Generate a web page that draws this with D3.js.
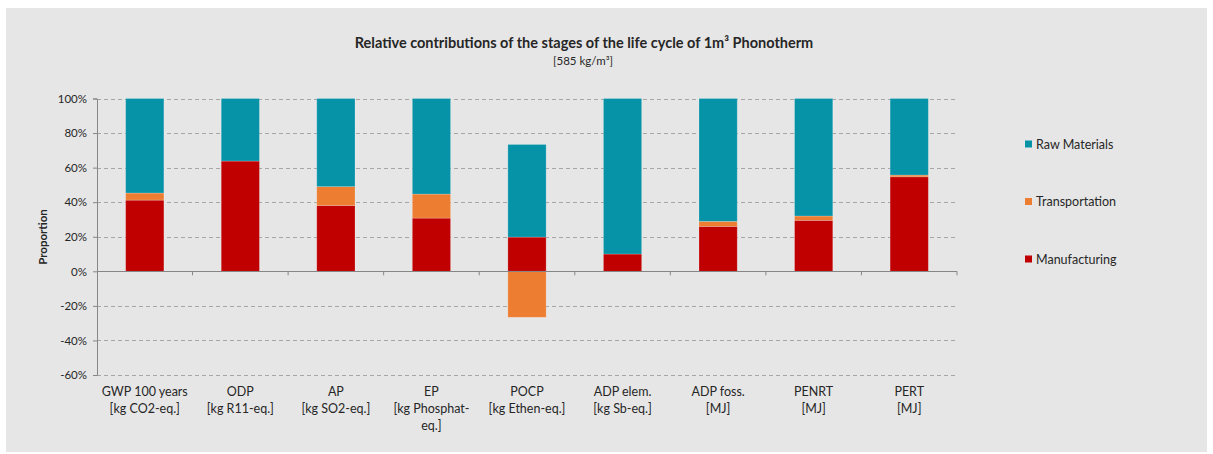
<!DOCTYPE html>
<html>
<head>
<meta charset="utf-8">
<script src="https://cdn.jsdelivr.net/npm/d3@7"></script>
<style>
  body { margin: 0; background: #fff; }
  text { font-family: Lato, "Open Sans", sans-serif; fill: #262626; }
</style>
</head>
<body>
<div id="chart"></div>
<script>
// categories and stage shares (fractions)
const categories = [
  ["GWP 100 years", "[kg CO2-eq.]"],
  ["ODP", "[kg R11-eq.]"],
  ["AP", "[kg SO2-eq.]"],
  ["EP", "[kg Phosphat-", "eq.]"],
  ["POCP", "[kg Ethen-eq.]"],
  ["ADP elem.", "[kg Sb-eq.]"],
  ["ADP foss.", "[MJ]"],
  ["PENRT", "[MJ]"],
  ["PERT", "[MJ]"]
];
const manufacturing = [0.412, 0.638, 0.381, 0.308, 0.198, 0.100, 0.260, 0.295, 0.547];
const transportation = [0.041, 0.000, 0.109, 0.139, -0.266, 0.000, 0.029, 0.025, 0.010];
const rawMaterials = [0.547, 0.362, 0.510, 0.553, 0.536, 0.900, 0.711, 0.680, 0.443];
const yTicks = [-0.6, -0.4, -0.2, 0, 0.2, 0.4, 0.6, 0.8, 1.0];

const series = [
  { name: "Manufacturing", values: manufacturing, color: "#c00000" },
  { name: "Transportation", values: transportation, color: "#ed7d31" },
  { name: "Raw Materials", values: rawMaterials, color: "#0693a8" }
];

const width = 1213, height = 454;
const margin = { top: 98.5, right: 256, bottom: 79, left: 97 };

const svg = d3.select("#chart").append("svg")
  .attr("width", width)
  .attr("height", height);

// chart area background
svg.append("rect")
  .attr("x", 6).attr("y", 8)
  .attr("width", 1201).attr("height", 444)
  .attr("fill", "#e6e6e6");

const x = d3.scaleBand()
  .domain(d3.range(categories.length))
  .range([margin.left, width - margin.right])
  .paddingInner(0.6)
  .paddingOuter(0.3);

const y = d3.scaleLinear()
  .domain([-0.6, 1.0])
  .range([height - margin.bottom, margin.top]);

// gridlines
svg.append("g")
  .selectAll("line")
  .data(yTicks.filter(d => d !== 0))
  .join("line")
  .attr("x1", margin.left).attr("x2", width - margin.right)
  .attr("y1", d => Math.round(y(d)) + 0.5).attr("y2", d => Math.round(y(d)) + 0.5)
  .attr("stroke", "#a6a6a6")
  .attr("stroke-dasharray", "4,3");

// stacked bars, positives up from 0 and negatives down
const stacked = [];
categories.forEach((c, i) => {
  let pos = 0, neg = 0;
  series.forEach(s => {
    const v = s.values[i];
    if (v >= 0) {
      stacked.push({ i, y0: pos, y1: pos + v, color: s.color });
      pos += v;
    } else {
      stacked.push({ i, y0: neg + v, y1: neg, color: s.color });
      neg += v;
    }
  });
});

svg.append("g")
  .selectAll("rect")
  .data(stacked.filter(d => d.y1 - d.y0 > 0))
  .join("rect")
  .attr("x", d => x(d.i))
  .attr("width", x.bandwidth())
  .attr("y", d => y(d.y1))
  .attr("height", d => y(d.y0) - y(d.y1))
  .attr("fill", d => d.color)
  .attr("stroke", "rgba(255,255,255,0.25)")
  .attr("stroke-width", 0.8);

// y axis
const yAxis = svg.append("g")
  .attr("transform", `translate(${margin.left},0)`)
  .call(d3.axisLeft(y).tickValues(yTicks)
    .tickFormat(d => Math.round(d * 100) + "%")
    .tickSize(4).tickPadding(6));
yAxis.select(".domain").attr("stroke", "#868686");
yAxis.selectAll(".tick line").attr("stroke", "#868686");
yAxis.selectAll("text").style("font-size", "11.5px").attr("fill", "#262626");

// x axis line at zero with category boundary ticks
const step = (width - margin.right - margin.left) / categories.length;
svg.append("line")
  .attr("x1", margin.left).attr("x2", width - margin.right)
  .attr("y1", Math.round(y(0)) + 0.5).attr("y2", Math.round(y(0)) + 0.5)
  .attr("stroke", "#868686");
svg.append("g")
  .selectAll("line")
  .data(d3.range(1, categories.length + 1))
  .join("line")
  .attr("x1", i => margin.left + i * step).attr("x2", i => margin.left + i * step)
  .attr("y1", y(0)).attr("y2", y(0) + 4)
  .attr("stroke", "#868686");

// category labels
const labels = svg.append("g")
  .selectAll("text")
  .data(categories)
  .join("text")
  .attr("text-anchor", "middle")
  .attr("y", 396)
  .style("font-size", "12.5px");
labels.each(function(d, i) {
  const t = d3.select(this);
  d.forEach((line, k) => {
    t.append("tspan")
      .attr("x", x(i) + x.bandwidth() / 2)
      .attr("dy", k === 0 ? 0 : 17)
      .text(line);
  });
});

// y axis title
svg.append("text")
  .attr("transform", `translate(47,237) rotate(-90)`)
  .attr("text-anchor", "middle")
  .style("font-size", "11.5px")
  .style("font-weight", "bold")
  .text("Proportion");

// title
svg.append("text")
  .attr("x", 584).attr("y", 48)
  .attr("text-anchor", "middle")
  .style("font-size", "14.5px")
  .style("font-weight", "bold")
  .text("Relative contributions of the stages of the life cycle of 1m³ Phonotherm");
svg.append("text")
  .attr("x", 583).attr("y", 65)
  .attr("text-anchor", "middle")
  .style("font-size", "11.5px")
  .text("[585 kg/m³]");

// legend
const legendItems = [series[2], series[1], series[0]];
const legend = svg.append("g")
  .selectAll("g")
  .data(legendItems)
  .join("g")
  .attr("transform", (d, i) => `translate(1025,${144 + i * 57.5})`);
legend.append("rect")
  .attr("x", 0).attr("y", -3.5)
  .attr("width", 7).attr("height", 7)
  .attr("fill", d => d.color);
legend.append("text")
  .attr("x", 11).attr("y", 4.5)
  .style("font-size", "12.5px")
  .text(d => d.name);
</script>
</body>
</html>
